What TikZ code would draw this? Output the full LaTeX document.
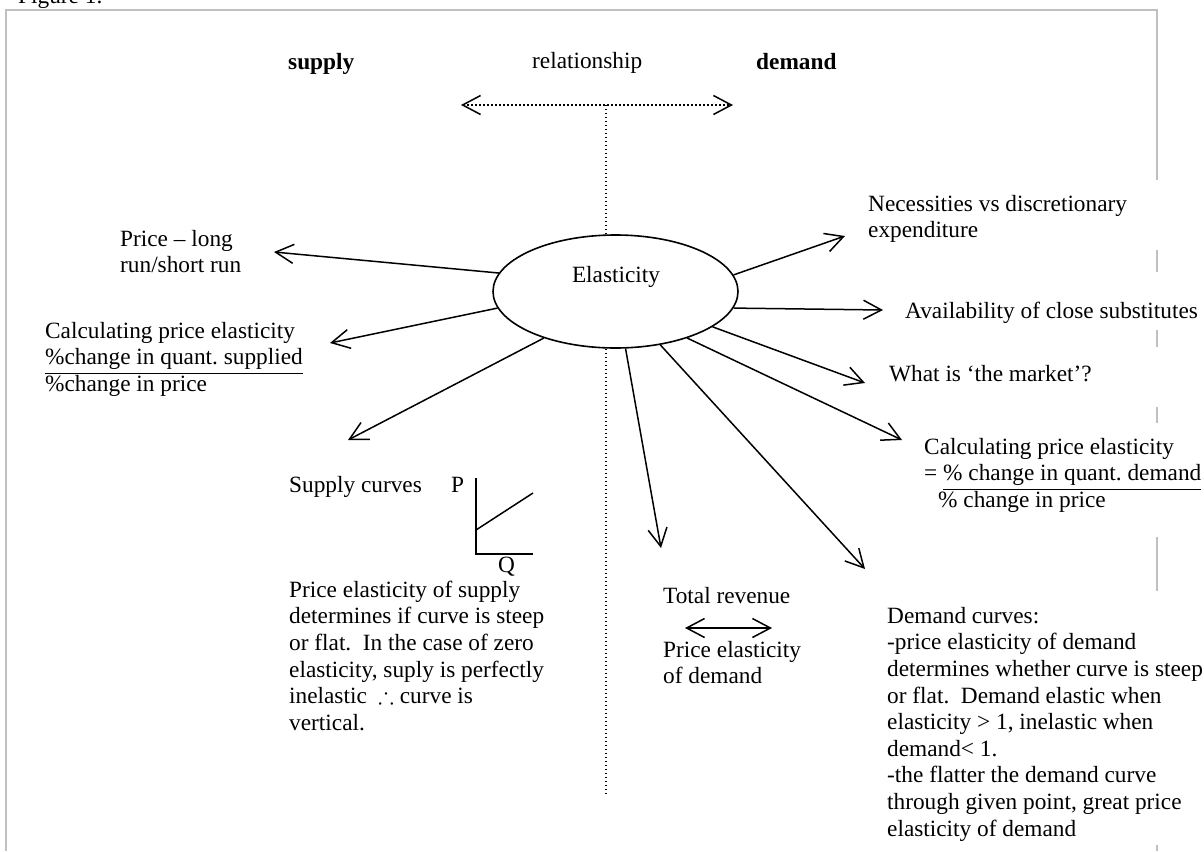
\documentclass[tikz,border=0pt]{standalone}
\usepackage{fontspec}
\setmainfont{Liberation Serif}
\usepackage{amssymb}
\usetikzlibrary{arrows.meta,shapes.geometric}
\newcommand{\tstrut}{\rule{0pt}{20pt}}
\newcommand{\mfs}{\fontsize{23.3pt}{26.6pt}\selectfont\frenchspacing}
\definecolor{framegray}{RGB}{192,192,192}
\begin{document}
\begin{tikzpicture}[x=1pt,y=-1pt,
  frame/.style={draw=framegray,line width=2pt},
  arr/.style={line width=1.5pt,-{Straight Barb[length=18pt,width=19pt,line width=1.5pt]}},
  darr/.style={line width=1.5pt,{Straight Barb[length=18pt,width=19pt,line width=1.5pt]}-{Straight Barb[length=18pt,width=19pt,line width=1.5pt]}},
  dotl/.style={line width=1.3pt,dash pattern=on 1.2pt off 2.8pt},
  txt/.style={anchor=north west,inner sep=0pt,align=left,font=\mfs},
  lbl/.style={anchor=base west,inner sep=0pt,font=\mfs},
  axis/.style={line width=1.5pt}]
\useasboundingbox (0,0) rectangle (1204,851);
% frame
\draw[frame] (5.5,851) -- (5.5,10) -- (1157,10) -- (1157,180);
\draw[frame] (1157,250) -- (1157,272);
\draw[frame] (1157,330) -- (1157,347);
\draw[frame] (1157,407) -- (1157,423);
\draw[frame] (1157,537) -- (1157,591);
\draw[frame] (1157,845) -- (1157,851);
\node[lbl] (fig) at (18,4) {Figure 1.};
% top labels
\node[lbl,font=\mfs\bfseries] (sup) at (288,70) {supply};
\node[lbl] (rel) at (532,69) {relationship};
\node[lbl,font=\mfs\bfseries] (dem) at (756,70) {demand};
% relationship arrow and dotted axis
\coordinate (rl) at (461,105);
\coordinate (rr) at (733,105);
\coordinate (rj) at (606,105);
\coordinate (vb) at (606,796);
\draw[dotl,{Straight Barb[length=18pt,width=19pt,line width=1.5pt]}-{Straight Barb[length=18pt,width=19pt,line width=1.5pt]}] (rl) -- (rr);
\draw[dotl] (rj) -- (vb);
% central ellipse
\node[ellipse,draw,fill=white,line width=1.6pt,minimum width=245pt,minimum height=113pt,inner sep=0pt] (el) at (615.5,291.5) {};
\node[anchor=base,inner sep=0pt,font=\mfs] (elt) at (616,282) {Elasticity};
% arrow tips
\coordinate (t1) at (274,252);
\coordinate (t2) at (330,343);
\coordinate (t3) at (348,440);
\coordinate (r1) at (845,236);
\coordinate (r2) at (883,310);
\coordinate (r3) at (865,383);
\coordinate (r4) at (902,440);
\coordinate (r5) at (865,569);
\coordinate (r6) at (661,548);
\draw[arr] (el.171.3) -- (t1);
\draw[arr] (el.188.1) -- (t2);
\draw[arr] (el.213.6) -- (t3);
\draw[arr] (el.8.6) -- (r1);
\draw[arr] (el.-8.7) -- (r2);
\draw[arr] (el.-20.1) -- (r3);
\draw[arr] (el.-33.6) -- (r4);
\draw[arr] (el.-50.5) -- (r5);
\draw[arr] (el.-80.6) -- (r6);
% left texts
\node[txt] (plr) at (120,226) {\tstrut Price – long\\run/short run};
\node[txt] (cps) at (45,318) {\tstrut Calculating price elasticity\\\underline{\%change in quant.\ supplied}\\\%change in price};
\node[lbl] (sc) at (289,492) {Supply curves};
\node[lbl] (pp) at (451,492) {P};
\node[lbl] (qq) at (498,572) {Q};
\coordinate (ax0) at (476,554);
\coordinate (axp) at (476,478);
\coordinate (axq) at (533,554);
\coordinate (s0) at (476,530);
\coordinate (s1) at (533,493);
\draw[axis] (axp) -- (ax0) -- (axq);
\draw[axis] (s0) -- (s1);
\node[txt] (pes) at (289,577) {\tstrut Price elasticity of supply\\determines if curve is steep\\or flat.\ \ In the case of zero\\elasticity, suply is perfectly\\inelastic\ \ $\therefore$\ curve is\\vertical.};
% middle bottom
\node[lbl] (tr) at (663,603) {Total revenue};
\coordinate (tra) at (685,628);
\coordinate (trb) at (772,628);
\draw[darr] (tra) -- (trb);
\node[txt] (ped) at (663,637) {\tstrut Price elasticity\\of demand};
% right texts
\node[txt] (nec) at (868,191) {\tstrut Necessities vs discretionary\\expenditure};
\node[lbl] (av) at (905,318) {Availability of close substitutes};
\node[lbl] (mk) at (889,381) {What is ‘the market’?};
\node[txt] (cpd) at (924,434) {\tstrut Calculating price elasticity\\= \underline{\% change in quant.\ demand}\\\hspace*{14pt}\% change in price};
\node[txt] (dc) at (887,603) {\tstrut Demand curves:\\-price elasticity of demand\\determines whether curve is steep\\or flat.\ \ Demand elastic when\\elasticity > 1, inelastic when\\demand< 1.\\-the flatter the demand curve\\through given point, great price\\elasticity of demand};
\end{tikzpicture}
\end{document}
